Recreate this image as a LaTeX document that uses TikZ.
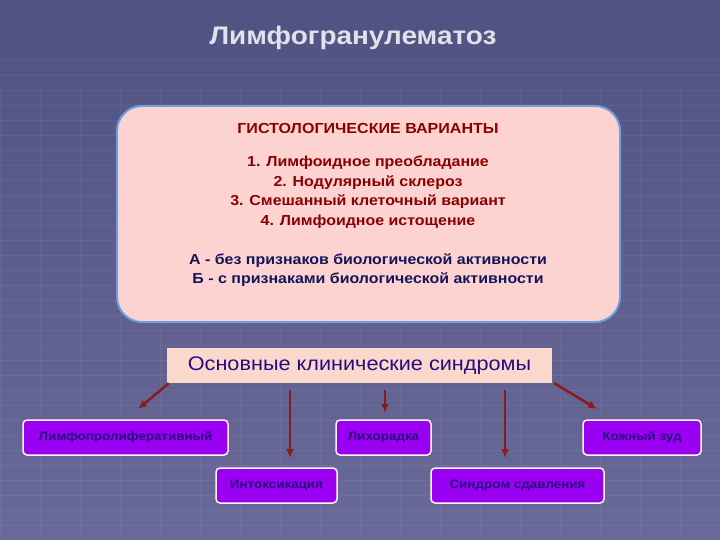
\documentclass[tikz,border=0pt]{standalone}
\usepackage{fontspec}
\usetikzlibrary{arrows.meta}
\setmainfont{Liberation Sans}[FakeStretch=1.1]
\begin{document}
\begin{tikzpicture}[x=1pt,y=-1pt,
  purp/.style={draw=white!85!pink,line width=1.5pt,fill=pbox,rounded corners=4pt,text=navytxt,font=\bfseries\fontsize{12.2}{13}\selectfont,minimum height=35pt,inner sep=0pt},
  arr/.style={draw=arrred,line width=2.5pt,-{Latex[length=9pt,width=8pt]}}]
\definecolor{pbox}{HTML}{9A00F2}
\definecolor{navytxt}{HTML}{2A0A80}
\definecolor{arrred}{HTML}{8B1A1A}
\definecolor{dred}{HTML}{8B0000}
\definecolor{navy}{HTML}{14145A}
\useasboundingbox (0,0) rectangle (720,540);
\shade[top color={rgb,255:red,80;green,82;blue,130},bottom color={rgb,255:red,106;green,106;blue,152}] (0,0) rectangle (720,540);
\foreach \y in {60,75,...,540} \draw[white,opacity=0.06] (0,\y) -- (720,\y);
\foreach \x in {0,40,...,720} \draw[white,opacity=0.05] (\x,90) -- (\x,540);
\node[text={rgb,255:red,225;green,225;blue,235},font=\bfseries\fontsize{25.4}{28}\selectfont] (title) at (353,38) {Лимфогранулематоз};
\node[draw={rgb,255:red,110;green,160;blue,225},line width=2pt,fill={rgb,255:red,252;green,211;blue,208},rounded corners=25pt,minimum width=503pt,minimum height=216pt] (box) at (368.5,214) {};
\node[text=dred,font=\bfseries\fontsize{14.6}{16}\selectfont] (h) at (368,128) {ГИСТОЛОГИЧЕСКИЕ ВАРИАНТЫ};
\node[text=dred,font=\bfseries\fontsize{14.5}{19.5}\selectfont,align=center] (list) at (368,192) {1. Лимфоидное преобладание\\2. Нодулярный склероз\\3. Смешанный клеточный вариант\\4. Лимфоидное истощение};
\node[text=navy,font=\bfseries\fontsize{14.5}{19.5}\selectfont,align=center] (ab) at (368,270) {А - без признаков биологической активности\\Б - с признаками биологической активности};
\node[fill={rgb,255:red,251;green,216;blue,204},minimum width=385pt,minimum height=35pt,inner sep=0pt,text=navytxt,font=\fontsize{19.7}{22}\selectfont] (main) at (359.5,365.5) {Основные клинические синдромы};
\node[purp,minimum width=205pt] (p1) at (125.5,437.5) {Лимфопролиферативный};
\node[purp,minimum width=95pt] (p2) at (383.5,437.5) {Лихорадка};
\node[purp,minimum width=118pt] (p3) at (642,437.5) {Кожный зуд};
\node[purp,minimum width=121pt] (p4) at (276.5,485.5) {Интоксикация};
\node[purp,minimum width=173pt] (p5) at (517.5,485.5) {Синдром сдавления};
\coordinate (e1) at (138,409);
\coordinate (e2) at (290,458);
\coordinate (e3) at (385,413);
\coordinate (e4) at (505,458);
\coordinate (e5) at (597,409);
\draw[arr] ([xshift=2pt]main.south west) -- (e1);
\draw[arr] ([yshift=-7pt]main.south -| e2) -- (e2);
\draw[arr] ([yshift=-7pt]main.south -| e3) -- (e3);
\draw[arr] ([yshift=-7pt]main.south -| e4) -- (e4);
\draw[arr] ([xshift=2pt]main.south east) -- (e5);
\end{tikzpicture}
\end{document}
